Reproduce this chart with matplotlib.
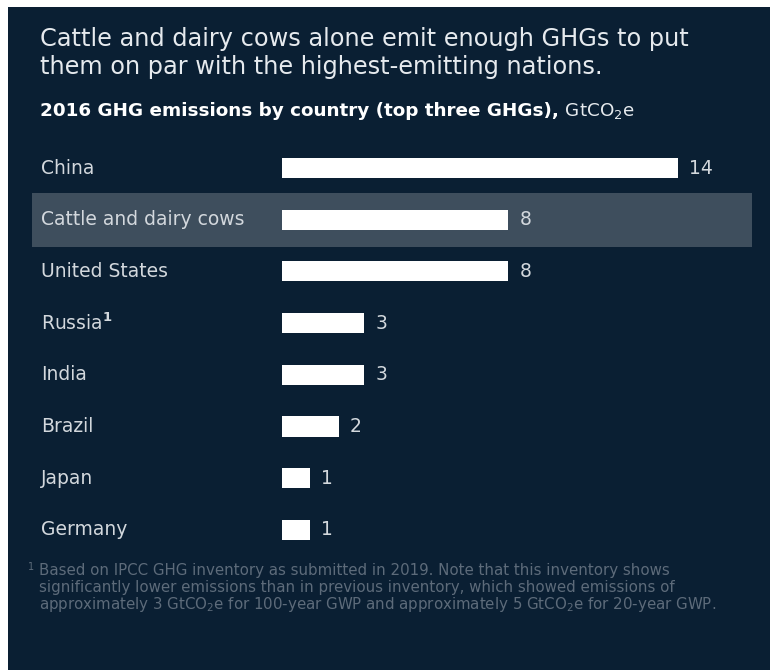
import matplotlib.pyplot as plt
from matplotlib.patches import Rectangle

categories = ['China', 'Cattle and dairy cows', 'United States', 'Russia$^{\\mathbf{1}}$',
              'India', 'Brazil', 'Japan', 'Germany']
values = [14, 8, 8, 2.9, 2.9, 2, 1, 1]
value_labels = ['14', '8', '8', '3', '3', '2', '1', '1']
highlight = 1

title_lines = ['Cattle and dairy cows alone emit enough GHGs to put',
               'them on par with the highest-emitting nations.']
subtitle_bold = '2016 GHG emissions by country (top three GHGs),'
subtitle_unit = ' GtCO$_2$e'
footnote_lines = ['Based on IPCC GHG inventory as submitted in 2019. Note that this inventory shows',
                  'significantly lower emissions than in previous inventory, which showed emissions of',
                  'approximately 3 GtCO$_2$e for 100-year GWP and approximately 5 GtCO$_2$e for 20-year GWP.']

bg = '#0a1f33'
band = '#3e4e5d'
label_col = '#d3d8dd'
note_col = '#5d6b7a'

plt.rcParams['font.family'] = ['DejaVu Sans']
plt.rcParams['mathtext.fontset'] = 'dejavusans'

W, H = 770, 670
fig = plt.figure(figsize=(W / 100, H / 100), dpi=100, facecolor='white')
fig.patches.append(Rectangle((8 / W, 0), 1 - 8 / W, 1 - 7 / H, transform=fig.transFigure,
                             facecolor=bg, edgecolor='none', zorder=-10))

def fx(px):
    return px / W

def fy(py):
    return 1 - py / H

for i, line in enumerate(title_lines):
    fig.text(fx(40), fy(46 + 28 * i), line, color='#e6eaee', fontsize=17.3,
             va='baseline', ha='left')
t = fig.text(fx(40), fy(116), subtitle_bold, color='white', fontsize=13.2, fontweight='bold',
             va='baseline', ha='left')
fig.canvas.draw()
bb = t.get_window_extent()
fig.text(bb.x1 / W, fy(116), subtitle_unit, color='#e6eaee', fontsize=13.2, va='baseline', ha='left')

# bar area: axes spans px x 32..752, y 140..556
px_per_unit = 28.3
x0_px, x1_px, zero_px = 32, 752, 282
ax = fig.add_axes([fx(x0_px), fy(556), (x1_px - x0_px) / W, (556 - 140) / H])
ax.set_xlim(-(zero_px - x0_px) / px_per_unit, (x1_px - zero_px) / px_per_unit)
row = 51.7
ax.set_ylim((556 - 168) / row, (140 - 168) / row)
ax.axis('off')
ax.patch.set_alpha(0)

ypos = list(range(len(categories)))
ax.axhspan(highlight - 0.52, highlight + 0.52, color=band, zorder=0, lw=0)
ax.barh(ypos, values, height=0.39, color='white', zorder=2)
for y, v, lab, cat in zip(ypos, values, value_labels, categories):
    ax.text(v + 11 / px_per_unit, y, lab, color=label_col, fontsize=13.5, va='center', ha='left')
    ax.text((41 - x0_px) / (x1_px - x0_px), y, cat, transform=ax.get_yaxis_transform(),
            color=label_col, fontsize=13.5, va='center', ha='left')

fig.text(fx(28), fy(567), '1', color=note_col, fontsize=7, va='center', ha='left')
for i, line in enumerate(footnote_lines):
    fig.text(fx(39), fy(575 + 17 * i), line, color=note_col, fontsize=10.8,
             va='baseline', ha='left')

fig.savefig('out.png', dpi=100, facecolor=fig.get_facecolor())
